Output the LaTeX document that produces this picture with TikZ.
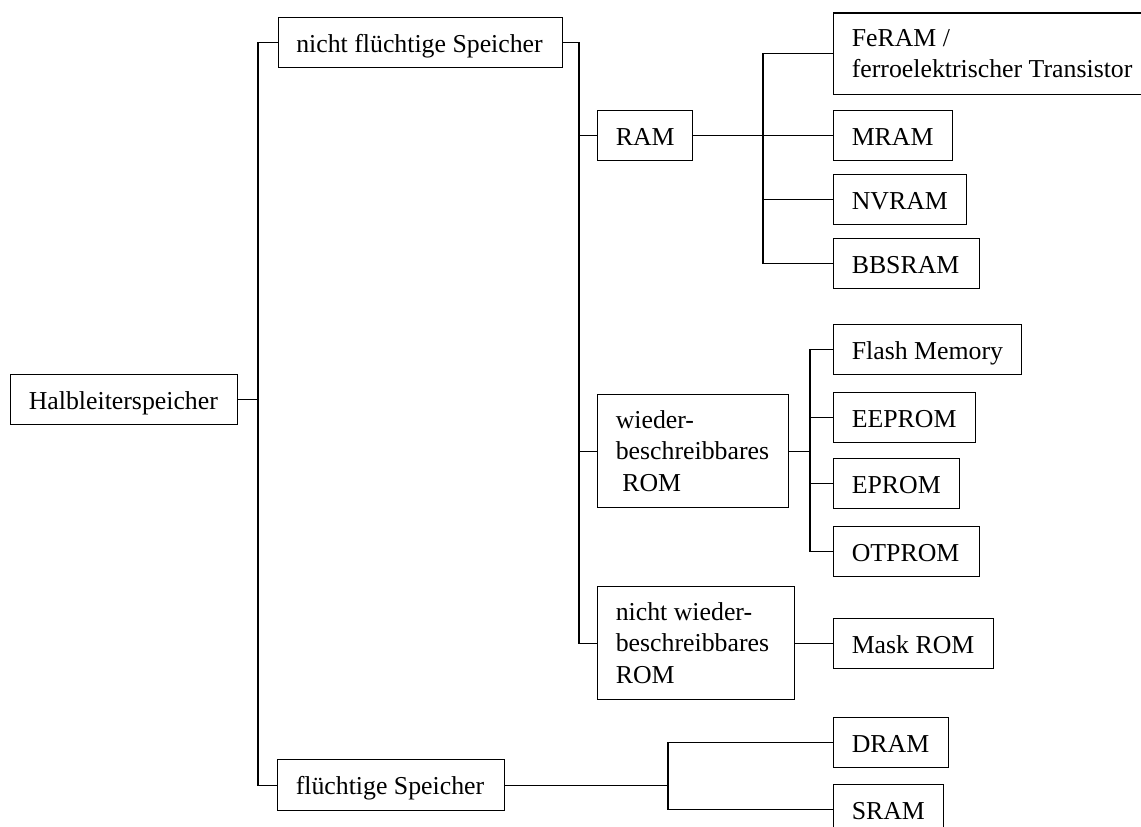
\documentclass[tikz,border=0pt]{standalone}
\usepackage{fontspec}
\setmainfont{Liberation Serif}
% single-line box: text baseline fixed below the box centre
\newcommand\mkbox[6]{%
  \node[boxst, minimum width=#4pt, minimum height=#5pt] (#1) at (#2,#3) {};
  \node[txt, anchor=base west] (#1-t) at ([xshift=18.6pt, yshift=-9.8pt]#1.west) {#6};}
% multi-line box: text block centred vertically
\newcommand\mkboxm[6]{%
  \node[boxst, minimum width=#4pt, minimum height=#5pt] (#1) at (#2,#3) {};
  \node[txt, anchor=west] (#1-t) at ([xshift=18.6pt]#1.west) {#6};}
\begin{document}
\begin{tikzpicture}[x=1pt,y=-1pt,
  boxst/.style={draw, line width=1.3pt, anchor=north west, inner sep=0pt},
  txt/.style={inner sep=0pt, align=left, font=\fontsize{25.8}{31.5}\selectfont},
  conn/.style={draw, line width=1.3pt}]
\path[use as bounding box, clip] (0,0) rectangle (1141,827);
\fill[white] (0,0) rectangle (1141,827);

\mkbox{H}{10}{374}{227}{50}{Halbleiterspeicher}
\mkbox{NF}{277.5}{16.7}{284.3}{50}{nicht flüchtige Speicher}
\mkbox{RAM}{597}{110}{95}{50}{RAM}
\mkboxm{FE}{833}{12.3}{330}{81.7}{FeRAM /\\ferroelektrischer Transistor}
\mkbox{MRAM}{833}{110}{119}{50}{MRAM}
\mkbox{NVRAM}{833}{174}{133}{50}{NVRAM}
\mkbox{BBSRAM}{833}{238}{146}{50}{BBSRAM}
\mkboxm{WR}{597}{394}{191}{113}{wieder-\\beschreibbares\\\hspace*{6.5pt}ROM}
\mkbox{Flash}{833}{324}{188}{50}{Flash Memory}
\mkbox{EEPROM}{833}{392}{142}{50}{EEPROM}
\mkbox{EPROM}{833}{458}{126}{50}{EPROM}
\mkbox{OTPROM}{833}{526}{146}{50}{OTPROM}
\mkboxm{NWR}{597}{586}{197}{113}{nicht wieder-\\beschreibbares\\ROM}
\mkbox{Mask}{833}{618}{160}{50}{Mask ROM}
\mkbox{FL}{277}{759}{227}{51}{flüchtige Speicher}
\mkbox{DRAM}{833}{717}{115}{50}{DRAM}
\mkbox{SRAM}{833}{784}{110}{50}{SRAM}

\coordinate (t1) at (258,0);
\coordinate (t2) at (579,0);
\coordinate (t3) at (763,0);
\coordinate (t4) at (810,0);
\coordinate (t5) at (668,0);

% level 1
\draw[conn] (H.east) -- (H.east -| t1);
\draw[conn] (NF.west) -| (t1 |- FL.west) -- (FL.west);
% non-volatile
\draw[conn] (NF.east) -| (t2 |- NWR.west) -- (NWR.west);
\draw[conn] (RAM.west) -- (RAM.west -| t2);
\draw[conn] (WR.west) -- (WR.west -| t2);
% RAM
\draw[conn] (RAM.east) -- (MRAM.west);
\draw[conn] (FE.west) -| (t3 |- BBSRAM.west) -- (BBSRAM.west);
\draw[conn] (NVRAM.west) -- (NVRAM.west -| t3);
% rewritable ROM
\draw[conn] (WR.east) -- (WR.east -| t4);
\draw[conn] (Flash.west) -| (t4 |- OTPROM.west) -- (OTPROM.west);
\draw[conn] (EEPROM.west) -- (EEPROM.west -| t4);
\draw[conn] (EPROM.west) -- (EPROM.west -| t4);
% non-rewritable ROM
\draw[conn] (NWR.east) -- (NWR.east -| Mask.west);
% volatile
\draw[conn] (FL.east) -- (FL.east -| t5);
\draw[conn] (DRAM.west) -| (t5 |- SRAM.west) -- (SRAM.west);
\end{tikzpicture}
\end{document}
